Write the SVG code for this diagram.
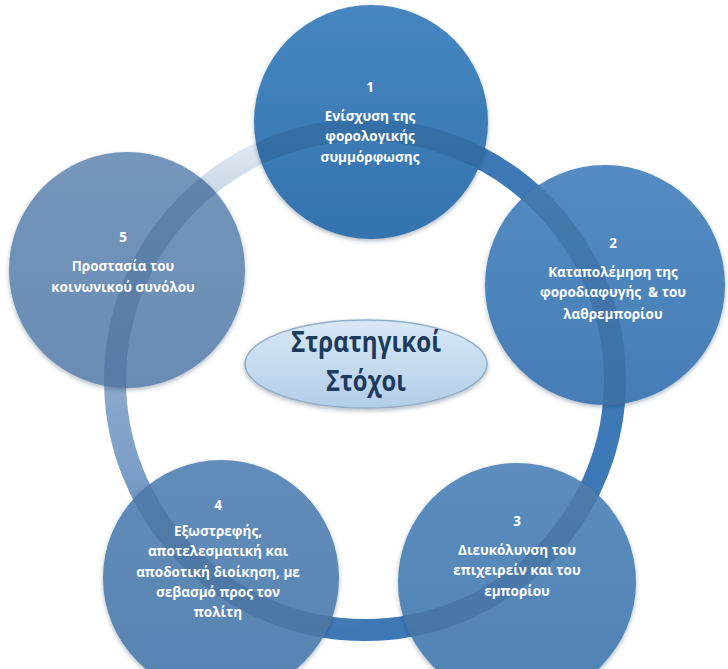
<svg xmlns="http://www.w3.org/2000/svg" xmlns:xlink="http://www.w3.org/1999/xlink" width="728" height="669" viewBox="0 0 728 669">
<style>
  .lbl { font-family: "Open Sans", "Noto Sans", "DejaVu Sans", sans-serif; font-weight: bold; font-size: 13.5px; fill: #ffffff; text-anchor: middle; }
  .title { font-family: "Open Sans", "Noto Sans", "DejaVu Sans", sans-serif; font-weight: bold; font-size: 29px; fill: #1b3a5e; text-anchor: middle; }
  .band { fill: none; stroke: #163b6a; stroke-opacity: 0.2; stroke-width: 22; }
  .node { filter: url(#sh); }
</style>
<defs>
  <filter id="sh" x="-10%" y="-10%" width="120%" height="120%">
    <feDropShadow dx="0" dy="2" stdDeviation="2" flood-color="#20344f" flood-opacity="0.35"/>
  </filter>
  <linearGradient id="ringL" gradientUnits="userSpaceOnUse" x1="0" y1="630" x2="0" y2="130">
    <stop offset="0" stop-color="#3f78b5"/>
    <stop offset="0.3" stop-color="#7a9cc6"/>
    <stop offset="0.5" stop-color="#8eaacd"/>
    <stop offset="0.8" stop-color="#bccbe0"/>
    <stop offset="1" stop-color="#e6edf5"/>
  </linearGradient>
  <linearGradient id="g1" x1="0" y1="0" x2="0" y2="1">
    <stop offset="0" stop-color="#4686c0"/><stop offset="1" stop-color="#3473ae"/>
  </linearGradient>
  <linearGradient id="g2" x1="0" y1="0" x2="0" y2="1">
    <stop offset="0" stop-color="#548bc2"/><stop offset="1" stop-color="#467db6"/>
  </linearGradient>
  <linearGradient id="g3" x1="0" y1="0" x2="0" y2="1">
    <stop offset="0" stop-color="#5b8dbe"/><stop offset="1" stop-color="#5082b4"/>
  </linearGradient>
  <linearGradient id="g4" x1="0" y1="0" x2="0" y2="1">
    <stop offset="0" stop-color="#628dba"/><stop offset="1" stop-color="#5783b2"/>
  </linearGradient>
  <linearGradient id="g5" x1="0" y1="0" x2="0" y2="1">
    <stop offset="0" stop-color="#7596bb"/><stop offset="1" stop-color="#698cb4"/>
  </linearGradient>
  <linearGradient id="ge" x1="0" y1="0" x2="0" y2="1">
    <stop offset="0" stop-color="#d8e8f7"/><stop offset="1" stop-color="#b2cee8"/>
  </linearGradient>
  <circle id="ringC" cx="365" cy="380" r="250"/>
  <clipPath id="c1"><circle cx="371" cy="122" r="117"/></clipPath>
  <clipPath id="c2"><circle cx="605" cy="285" r="120"/></clipPath>
  <clipPath id="c3"><circle cx="517" cy="582" r="119"/></clipPath>
  <clipPath id="c4"><circle cx="221" cy="578" r="118"/></clipPath>
  <clipPath id="c5"><circle cx="127" cy="270" r="118"/></clipPath>
</defs>
<rect width="728" height="669" fill="#ffffff"/>

<g id="connectors">
  <path d="M 365 630 A 250 250 0 0 1 365 130" fill="none" stroke="url(#ringL)" stroke-width="22"/>
  <path d="M 365 130 A 250 250 0 0 1 365 630" fill="none" stroke="#3e79b7" stroke-width="22"/>
</g>

<g id="node1">
  <circle class="node" cx="371" cy="122" r="117" fill="url(#g1)"/>
  <use xlink:href="#ringC" class="band" clip-path="url(#c1)"/>
  <text class="lbl" x="370" y="92">1</text>
  <text class="lbl" x="370" y="121">Ενίσχυση της</text>
  <text class="lbl" x="370" y="141">φορολογικής</text>
  <text class="lbl" x="370" y="162">συμμόρφωσης</text>
</g>

<g id="node2">
  <circle class="node" cx="605" cy="285" r="120" fill="url(#g2)"/>
  <use xlink:href="#ringC" class="band" clip-path="url(#c2)"/>
  <text class="lbl" x="613" y="248">2</text>
  <text class="lbl" x="613" y="277">Καταπολέμηση της</text>
  <text class="lbl" x="613" y="297" xml:space="preserve">φοροδιαφυγής  &amp; του</text>
  <text class="lbl" x="613" y="319">λαθρεμπορίου</text>
</g>

<g id="node3">
  <circle class="node" cx="517" cy="582" r="119" fill="url(#g3)"/>
  <use xlink:href="#ringC" class="band" clip-path="url(#c3)"/>
  <text class="lbl" x="517" y="526">3</text>
  <text class="lbl" x="517" y="555">Διευκόλυνση του</text>
  <text class="lbl" x="517" y="575">επιχειρείν και του</text>
  <text class="lbl" x="517" y="596">εμπορίου</text>
</g>

<g id="node4">
  <circle class="node" cx="221" cy="578" r="118" fill="url(#g4)"/>
  <use xlink:href="#ringC" class="band" clip-path="url(#c4)"/>
  <text class="lbl" x="218" y="510">4</text>
  <text class="lbl" x="218" y="536">Εξωστρεφής,</text>
  <text class="lbl" x="218" y="556">αποτελεσματική και</text>
  <text class="lbl" x="218" y="577">αποδοτική διοίκηση, με</text>
  <text class="lbl" x="218" y="597">σεβασμό προς τον</text>
  <text class="lbl" x="218" y="617">πολίτη</text>
</g>

<g id="node5">
  <circle class="node" cx="127" cy="270" r="118" fill="url(#g5)"/>
  <use xlink:href="#ringC" class="band" clip-path="url(#c5)"/>
  <text class="lbl" x="123" y="242">5</text>
  <text class="lbl" x="123" y="271">Προστασία του</text>
  <text class="lbl" x="123" y="292">κοινωνικού συνόλου</text>
</g>

<g id="center">
  <ellipse cx="366" cy="364" rx="121" ry="44" fill="url(#ge)" stroke="#93adc6" stroke-width="1.5" filter="url(#sh)"/>
  <text class="title" x="366" y="352" textLength="150" lengthAdjust="spacingAndGlyphs">Στρατηγικοί</text>
  <text class="title" x="366" y="391" textLength="80" lengthAdjust="spacingAndGlyphs">Στόχοι</text>
</g>
</svg>
